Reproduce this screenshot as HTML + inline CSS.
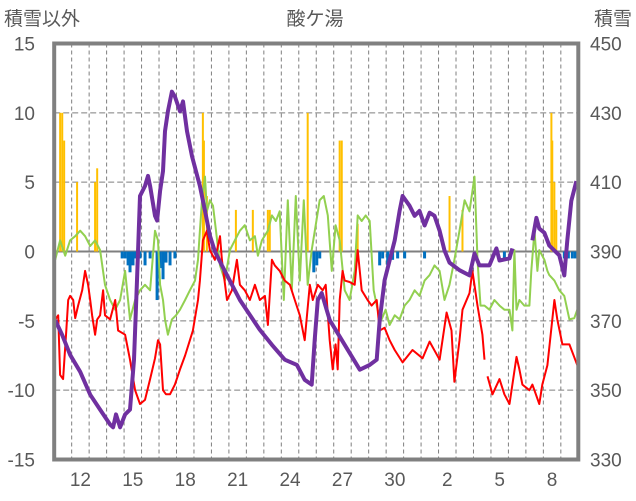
<!DOCTYPE html>
<html><head><meta charset="utf-8"><style>
html,body{margin:0;padding:0;background:#fff;}
svg{display:block;font-family:"Liberation Sans","Noto Sans CJK JP",sans-serif;}
</style></head><body>
<svg id="chart" width="636" height="501" viewBox="0 0 636 501">
<text x="315" y="25" font-size="19" fill="#595959" text-anchor="middle">酸ケ湯</text>
<text x="4" y="25" font-size="19" fill="#595959">積雪以外</text>
<text x="632" y="25" font-size="19" fill="#595959" text-anchor="end">積雪</text>
<g id="grid"></g><g id="bars"></g><g id="lines"></g><g id="axes"></g>
</svg>
<script>
const dayLabels=["12","15","18","21","24","27","30","2","5","8"];
const dayLabelIdx=[1,4,7,10,13,16,19,22,25,28];
const leftTicks=[15,10,5,0,-5,-10,-15];
const rightTicks=[450,430,410,390,370,350,330];
const purple=[[0.06,370.2],[0.46,365.9],[0.91,360.2],[1.49,355.3],[2.06,348.7],[2.63,344.4],[3.2,340.1],[3.37,339.3],[3.54,343],[3.77,339.3],[4.06,343],[4.34,344.4],[4.57,358.8],[4.74,381.7],[4.91,406],[5.2,408.9],[5.37,411.8],[5.49,408.9],[5.77,400.3],[5.89,398.9],[6.06,407.5],[6.23,413.2],[6.34,424.7],[6.51,430.4],[6.74,436.1],[6.91,434.7],[7.2,430.4],[7.37,433.3],[7.6,424.7],[7.89,417.5],[8.34,408.9],[8.63,401.7],[8.91,394.6],[9.2,390],[9.6,386],[10.63,376],[11.77,367.4],[12.46,363.1],[13.2,358.8],[13.89,357.3],[14.34,353],[14.74,351.6],[14.91,364.5],[15.09,376],[15.31,378],[15.77,370.2],[16.63,363.1],[17.49,355.9],[18.06,357.3],[18.46,358.8],[18.63,370.2],[18.91,381.7],[19.49,393.2],[19.77,401.7],[19.94,406],[20.34,403.2],[20.63,400.3],[20.91,401.7],[21.2,397.5],[21.49,401.2],[21.77,400.3],[22.06,396],[22.34,390.3],[22.63,386.8],[23.2,384.6],[23.77,383.1],[24.06,389.4],[24.34,386],[24.91,386],[25.31,390.9],[25.49,387.4],[26.06,388],[26.23,390.9],null,[27.37,393.2],[27.6,399.7],[27.77,396.6],[28.06,395.4],[28.34,391.7],[28.91,388.9],[29.2,383.1],[29.37,393.2],[29.6,404.6],[29.89,410.3]];
const red=[[0.06,-4.9],[0.23,-4.6],[0.34,-8.9],[0.51,-9.2],[0.69,-5.7],[0.8,-3.5],[0.91,-3.2],[1.09,-3.5],[1.2,-4.8],[1.37,-3.9],[1.6,-2.8],[1.77,-1.4],[1.94,-2.4],[2.06,-3.5],[2.17,-4.6],[2.34,-6],[2.46,-4.9],[2.63,-4.6],[2.8,-2.8],[2.91,-4.6],[3.2,-4.9],[3.49,-3.5],[3.66,-5.7],[4.06,-6],[4.34,-7.8],[4.63,-10],[4.91,-11],[5.2,-10.7],[5.49,-9.2],[5.77,-7.7],[5.94,-6.4],[6.06,-6.7],[6.23,-10],[6.4,-10.3],[6.63,-10.3],[6.91,-9.6],[7.2,-8.5],[7.49,-7.5],[7.77,-6.4],[7.94,-5.7],[8.23,-3.5],[8.34,-2.1],[8.51,0.8],[8.74,1.5],[8.91,0.1],[9.2,-0.6],[9.49,1.1],[9.6,-0.6],[9.89,-3.5],[10.17,-2.8],[10.46,-0.6],[10.63,-2.4],[10.91,-2.8],[11.2,-3.5],[11.49,-2.4],[11.77,-3.5],[12.06,-3.2],[12.23,-5.3],[12.46,-0.6],[12.63,-1],[12.91,-1.4],[13.2,-2.1],[13.49,-2.4],[13.77,-3.5],[14.06,-4.6],[14.34,-6.4],[14.63,-2.4],[14.8,-3.5],[15.09,-2.4],[15.37,-2.8],[15.54,-2.4],[15.77,-6.4],[15.94,-8.5],[16.11,-6.7],[16.23,-8.5],[16.34,-3.5],[16.51,-1.4],[16.63,-2.1],[16.91,-2.2],[17.2,-2.4],[17.37,0.1],[17.6,-2.8],[17.94,-3.5],[18.17,-3.9],[18.46,-3.5],[18.63,-5.7],[18.91,-5.5],[19.2,-6.4],[19.49,-7.1],[19.94,-8],[20.51,-7.1],[21.09,-7.7],[21.49,-6.5],[22.06,-7.8],[22.46,-4.4],[22.74,-5.7],[22.91,-9.4],[23.2,-6.4],[23.37,-4.2],[23.77,-3],[23.94,-1.4],[24.23,-3.9],[24.51,-6],[24.63,-7.8],null,[24.8,-9],[25.09,-10.3],[25.49,-9.2],[25.77,-10.3],[26.06,-11],[26.46,-7.6],[26.63,-8.5],[26.8,-9.6],[27.2,-10],[27.37,-9.6],[27.77,-11],[27.94,-9.6],[28.23,-8.2],[28.63,-3.5],[28.8,-4.9],[29.09,-6.7],[29.49,-6.7],[29.94,-8.2]];
const green=[[0.06,-0.6],[0.34,0.8],[0.63,-0.3],[0.91,0.8],[1.2,1.1],[1.49,1.5],[1.77,1.1],[2.06,0.4],[2.34,0.8],[2.63,0.1],[2.91,-2.4],[3.2,-3.5],[3.49,-4.2],[3.77,-3.5],[4.06,-1.4],[4.34,-4.9],[4.63,-3.5],[4.91,-2.8],[5.2,-2.4],[5.49,-2.8],[5.77,1.5],[5.94,0.8],[6.06,-2.4],[6.23,-3.5],[6.34,-4.9],[6.51,-6],[6.74,-4.9],[6.97,-4.6],[7.2,-4.2],[7.49,-3.5],[7.77,-2.8],[8.06,-2.1],[8.23,-0.6],[8.34,1.5],[8.46,3.7],[8.63,5.4],[8.74,2.9],[8.91,3.7],[9.09,3.3],[9.26,1.5],[9.49,-1],[9.77,-2.1],[10.06,0.1],[10.34,0.8],[10.63,1.5],[10.91,1.9],[11.2,0.8],[11.49,1.1],[11.66,-0.3],[11.89,0.8],[12.23,1.5],[12.46,2.6],[12.69,2.2],[12.91,2.9],[13.14,-3.5],[13.37,3.7],[13.6,-2.8],[13.83,4],[14.06,-2.1],[14.29,3.7],[14.51,-2.4],[14.74,0.1],[14.97,1.9],[15.2,3.7],[15.43,4],[15.66,2.6],[15.89,-1.4],[16.11,1.9],[16.34,0.8],[16.63,-2.8],[16.91,-3.5],[17.2,-1.4],[17.37,2.6],[17.6,2.2],[17.83,2.6],[18.06,2.2],[18.29,-2.8],[18.51,-4.2],[18.74,-4.9],[18.97,-4.2],[19.2,-5.3],[19.49,-4.6],[19.77,-4.9],[20.06,-3.9],[20.34,-3.5],[20.63,-2.8],[20.91,-3.2],[21.2,-2.1],[21.49,-1.7],[21.77,-1],[22.06,-1.4],[22.34,-3.5],[22.63,-2.4],[22.91,-0.6],[23.2,1.5],[23.49,3.7],[23.77,2.9],[24.06,5.4],[24.23,-0.6],[24.4,-3.9],[24.63,-3.9],[24.91,-4.2],[25.2,-3.5],[25.49,-3.9],[25.77,-4.2],[26.06,-4.2],[26.23,-5.7],[26.34,0.1],[26.46,-4.2],[26.63,-3.5],[26.91,-3.9],[27.2,-3.9],[27.31,-1.4],[27.49,1.5],[27.66,-1.4],[27.77,0.1],[28.06,-0.6],[28.23,-1.4],[28.34,-1.7],[28.63,-2.1],[28.91,-2.8],[29.2,-3.2],[29.49,-4.9],[29.77,-4.8],[29.94,-4.2]];
const orangeBars=[[0.34,10],[0.46,10],[0.57,8],[1.31,5],[2.34,5],[2.46,6],[8.51,10],[8.57,8],[8.74,4],[10.4,3],[11.37,3],[12.23,3],[12.34,3],[14.51,10],[16.34,8],[16.46,8],[17.37,2],[22.63,4],[23.37,3],[28.46,10],[28.51,8],[28.63,5],[28.74,3]];
const blueBars=[[3.89,-0.5],[4.06,-0.5],[4.23,-1],[4.34,-1.5],[4.51,-1],[4.63,-0.5],[4.91,-0.5],[5.2,-1],[5.49,-0.5],[5.89,-3.5],[6.06,-1.2],[6.23,-2],[6.4,-0.8],[6.63,-1],[6.91,-0.5],[14.86,-1.5],[15.03,-1],[15.2,-0.5],[18.63,-1],[18.8,-0.5],[19.09,-1],[19.37,-0.6],[19.66,-0.5],[20.06,-0.5],[21.2,-0.5],[25.77,-0.5],[29.2,-0.5],[29.43,-0.5],[29.66,-0.5],[29.83,-0.5]];

const NS="http://www.w3.org/2000/svg";
const X0=54.2,DW=17.47,NDAYS=30,YT=43.5,YB=459.5;
const xs=t=>X0+t*DW;
const yL=v=>YT+(15-v)/30*(YB-YT);
const yR=v=>YT+(450-v)/120*(YB-YT);
function mk(tag,attrs,parent){const e=document.createElementNS(NS,tag);for(const k in attrs)e.setAttribute(k,attrs[k]);parent.appendChild(e);return e;}
const grid=document.getElementById('grid'),bars=document.getElementById('bars'),lines=document.getElementById('lines'),axes=document.getElementById('axes');
for(let d=1;d<NDAYS;d++){
  const l=mk('line',{x1:xs(d),x2:xs(d),y1:YT,y2:YB,stroke:'#7f7f7f','stroke-width':1,'stroke-dasharray':'4,3'},grid);
  
  
}
leftTicks.forEach((v,i)=>{
  if(v!==15&&v!==-15&&v!==0){
    const g=mk('line',{x1:X0,x2:xs(NDAYS),y1:yL(v),y2:yL(v),stroke:'#7f7f7f','stroke-width':1,'stroke-dasharray':'6,3'},grid);
    
    
  }
  const t=mk('text',{x:35,y:yL(v)+7,'font-size':19,fill:'#595959','text-anchor':'end'},axes);t.textContent=v;
  
  
  const r=mk('text',{x:590,y:yR(rightTicks[i])+7,'font-size':19,fill:'#595959'},axes);r.textContent=rightTicks[i];
  
  
});
dayLabels.forEach((s,i)=>{
  const t=mk('text',{x:xs(dayLabelIdx[i]+0.5),y:486,'font-size':19,fill:'#595959','text-anchor':'middle'},axes);t.textContent=s;
  
  
});
function drawLine(data,yf,color,w,name){
  let d='',pen=false;
  data.forEach(p=>{if(!p){pen=false;return;}d+=(pen?'L':'M')+xs(p[0]).toFixed(1)+','+yf(p[1]).toFixed(1);pen=true;});
  const e=mk('path',{d:d,fill:'none',stroke:color,'stroke-width':w,'stroke-linejoin':'round'},lines);
  
  
}
drawLine(green,yL,'#92D050',2,'series-green-line');
orangeBars.forEach(p=>{
  const y=yL(p[1]),y0=yL(0);
  const b=mk('rect',{x:xs(p[0])-1,y:y,width:2,height:y0-y,fill:'#FFC000'},bars);
  
  
});
blueBars.forEach(p=>{
  const y=yL(p[1]),y0=yL(0);
  const b=mk('rect',{x:xs(p[0])-1.5,y:y0,width:3,height:y-y0,fill:'#0070C0'},bars);
  
  
});
drawLine(red,yL,'#FF0000',2,'series-red-line');
drawLine(purple,yR,'#7030A0',4,'snow-depth-line');
const z=mk('line',{x1:X0,x2:xs(NDAYS),y1:yL(0),y2:yL(0),stroke:'#7f7f7f','stroke-width':2},grid);


const fr=mk('rect',{x:X0,y:YT,width:xs(NDAYS)-X0,height:YB-YT,fill:'none',stroke:'#808080','stroke-width':4},axes);


</script>
</body></html>
